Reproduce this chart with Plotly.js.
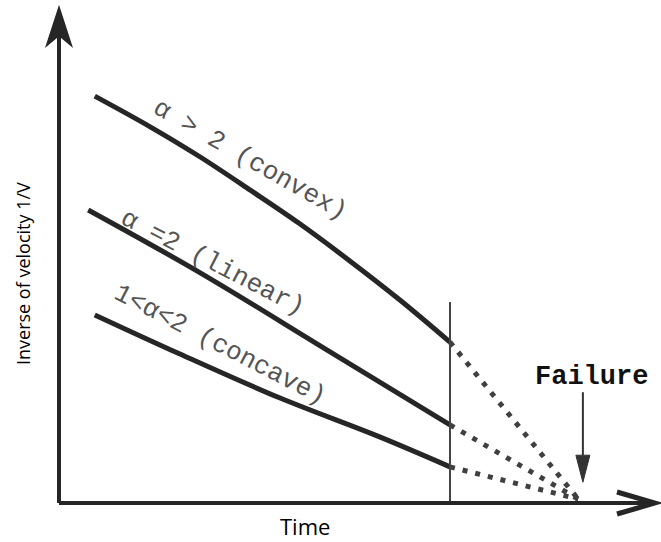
<!DOCTYPE html>
<html>
<head>
<meta charset="utf-8">
<script src="https://cdn.plot.ly/plotly-3.0.1.min.js"></script>
<style>html,body{margin:0;padding:0;background:#fff;}#chart{width:661px;height:542px;}</style>
</head>
<body>
<div id="chart"></div>
<script>
// ---- data (time, inverse velocity), schematic units ----
const convexT = [0.60, 1.53, 2.37, 3.21, 4.04, 4.88, 5.72, 6.56];
const convexInvV = [8.22, 7.60, 6.99, 6.32, 5.64, 4.89, 4.10, 3.25];
const linearT = [0.49, 2.37, 4.50, 6.56];
const linearInvV = [5.92, 4.65, 3.09, 1.58];
const concaveT = [0.60, 2.03, 3.71, 5.39, 6.56];
const concaveInvV = [3.80, 3.01, 2.12, 1.33, 0.73];
const tObs = 6.56;        // end of observed record (vertical line)
const obsLineTop = 4.06;
const tFail = 8.71;       // failure time
const invVFail = 0.08;
const curveLabels = ['α > 2 (convex)', 'α =2 (linear)', '1<α<2 (concave)'];
const failureLabel = 'Failure';
const xTitle = 'Time';
const yTitle = 'Inverse of velocity 1/V';

const ink = '#262626';
const typeInk = '#555555';

function solid(x, y) {
  return {x: x, y: y, mode: 'lines', type: 'scatter', hoverinfo: 'skip',
    line: {color: ink, width: 5, shape: 'spline', smoothing: 1}};
}
function dotted(x0, y0) {
  return {x: [x0, tFail], y: [y0, invVFail], mode: 'lines', type: 'scatter', hoverinfo: 'skip',
    line: {color: '#404040', width: 5, dash: '5px,8px'}};
}
const series = [[convexT, convexInvV], [linearT, linearInvV], [concaveT, concaveInvV]];
const traces = [];
series.forEach(s => traces.push(solid(s[0], s[1])));
series.forEach(s => traces.push(dotted(s[0][s[0].length - 1], s[1][s[1].length - 1])));

const labelFont = {family: 'Liberation Mono, monospace', size: 26, color: typeInk};
const annotations = [
  {x: 3.205, y: 6.93, text: curveLabels[0], textangle: 29.7, showarrow: false, font: labelFont},
  {x: 2.58, y: 4.84, text: curveLabels[1], textangle: 27.2, showarrow: false, font: labelFont},
  {x: 2.70, y: 3.19, text: curveLabels[2], textangle: 27.2, showarrow: false, font: labelFont},
  {x: 8.93, y: 2.55, text: failureLabel, showarrow: false,
   font: {family: 'Liberation Mono, monospace', size: 27, color: '#111', weight: 'bold'}},
  {xref: 'paper', yref: 'paper', x: -0.0604, y: 0.4626, xanchor: 'center', yanchor: 'middle',
   text: yTitle, textangle: -90, showarrow: false,
   font: {family: 'Open Sans, sans-serif', size: 18, color: '#000'}},
  {xref: 'paper', yref: 'paper', x: 0.4128, y: -0.0455, xanchor: 'center', yanchor: 'middle',
   text: xTitle, showarrow: false,
   font: {family: 'Open Sans, sans-serif', size: 22, color: '#000'}}
];

const shapes = [
  // observation line
  {type: 'line', x0: tObs, x1: tObs, y0: 0, y1: obsLineTop, line: {color: '#444', width: 2}},
  // y axis
  {type: 'line', xref: 'paper', yref: 'paper', x0: 0, x1: 0, y0: 0, y1: 0.975, line: {color: ink, width: 4}},
  {type: 'path', xref: 'paper', yref: 'paper', xsizemode: 'pixel', ysizemode: 'pixel', xanchor: 0, yanchor: 1,
   path: 'M0,0L-12,-37L0,-27L12,-37Z', fillcolor: ink, line: {color: ink, width: 2}},
  // x axis
  {type: 'line', xref: 'paper', yref: 'paper', x0: 0, x1: 0.99, y0: 0, y1: 0, line: {color: ink, width: 4}},
  {type: 'path', xref: 'paper', yref: 'paper', xsizemode: 'pixel', ysizemode: 'pixel', xanchor: 1, yanchor: 0,
   path: 'M-38,11L0,0L-38,-11', line: {color: ink, width: 5}},
  // failure arrow
  {type: 'path', xsizemode: 'pixel', ysizemode: 'pixel', xanchor: 8.79, yanchor: 0.42,
   path: 'M0,27L0,90', line: {color: '#333', width: 2}},
  {type: 'path', xsizemode: 'pixel', ysizemode: 'pixel', xanchor: 8.79, yanchor: 0.42,
   path: 'M0,0L-7,27L7,27Z', fillcolor: '#333', line: {color: '#333', width: 1}}
];

const hidden = {range: [0, 10], showgrid: false, zeroline: false, showticklabels: false,
  showline: false, ticks: '', fixedrange: true};

Plotly.newPlot('chart', traces, {
  width: 661, height: 542,
  margin: {l: 59, r: 6, t: 8, b: 39},
  paper_bgcolor: '#fff', plot_bgcolor: '#fff',
  showlegend: false,
  xaxis: Object.assign({}, hidden),
  yaxis: Object.assign({}, hidden),
  annotations: annotations,
  shapes: shapes
}, {displayModeBar: false, staticPlot: true});
</script>
</body>
</html>
